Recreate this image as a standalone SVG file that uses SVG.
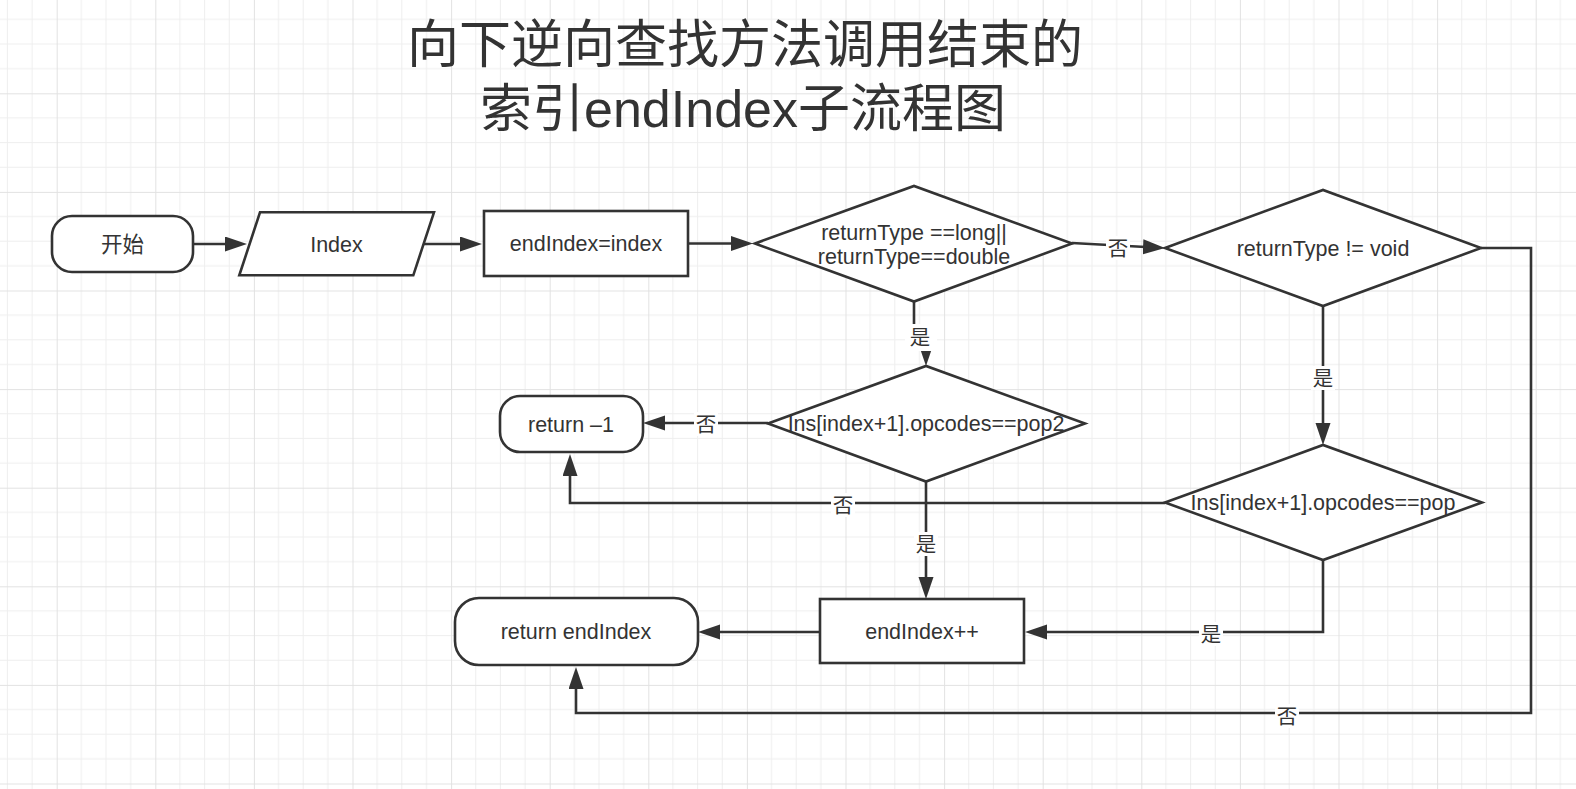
<svg xmlns="http://www.w3.org/2000/svg" width="1576" height="789" viewBox="0 0 1576 789">
<defs>
<pattern id="grid" patternUnits="userSpaceOnUse" x="56.7" y="93.3" width="98.6" height="98.6">
<path d="M24.65,0V98.6M49.3,0V98.6M73.95,0V98.6M0,24.65H98.6M0,49.3H98.6M0,73.95H98.6" stroke="#eeeeee" stroke-width="1" fill="none"/>
<path d="M0.5,0V98.6M0,0.5H98.6" stroke="#e2e2e2" stroke-width="1" fill="none"/>
</pattern>
<marker id="arr" markerUnits="userSpaceOnUse" markerWidth="24" markerHeight="16" refX="12" refY="7.5" orient="auto" viewBox="0 0 24 16">
<path d="M0,0 L22,7.5 L0,15 z" fill="#333333"/>
</marker>
<style>
.shape{fill:#ffffff;stroke:#333333;stroke-width:2.6}
.edge{fill:none;stroke:#333333;stroke-width:2.6}
.t{font-family:"Liberation Sans","Noto Sans CJK SC",sans-serif;font-size:21.5px;fill:#333333;text-anchor:middle}
.lbl{font-family:"Liberation Sans","Noto Sans CJK SC",sans-serif;font-size:20.5px;fill:#333333;text-anchor:middle}
.lbg{fill:#ffffff}
.title{font-family:"Liberation Sans","Noto Sans CJK SC",sans-serif;font-size:52px;fill:#333333;text-anchor:middle}
</style>
</defs>
<rect x="0" y="0" width="1576" height="789" fill="#ffffff"/>
<rect x="0" y="0" width="1576" height="789" fill="url(#grid)"/>

<g id="title">
<text class="title" x="745" y="63">向下逆向查找方法调用结束的</text>
<text class="title" x="743" y="127">索引endIndex子流程图</text>
</g>

<g id="connectors">
<path class="edge" d="M193,244 L237,244" marker-end="url(#arr)"/>
<path class="edge" d="M424,244 L472,244" marker-end="url(#arr)"/>
<path class="edge" d="M688,243.5 L743,243.5" marker-end="url(#arr)"/>
<path class="edge" d="M1072,243 L1155,247.5" marker-end="url(#arr)"/>
<path class="edge" d="M914,302 L914,328 L926,340 L926,356" marker-end="url(#arr)"/>
<path class="edge" d="M1323,306 L1323,435" marker-end="url(#arr)"/>
<path class="edge" d="M1481,248 L1531,248 L1531,713 L576,713 L576,677" marker-end="url(#arr)"/>
<path class="edge" d="M1165,503 L570,503 L570,464" marker-end="url(#arr)"/>
<path class="edge" d="M1323,560 L1323,632 L1035,632" marker-end="url(#arr)"/>
<path class="edge" d="M768,423 L653,423" marker-end="url(#arr)"/>
<path class="edge" d="M926,482 L926,589" marker-end="url(#arr)"/>
<path class="edge" d="M820,632 L708,632" marker-end="url(#arr)"/>
<g id="edge-labels">
<rect class="lbg" x="1106" y="236" width="24" height="24"/><text class="lbl" x="1118" y="255.5">否</text>
<rect class="lbg" x="905" y="324" width="32" height="27"/><text class="lbl" x="920" y="344.5">是</text>
<rect class="lbg" x="694" y="412" width="24" height="24"/><text class="lbl" x="706" y="431.5">否</text>
<rect class="lbg" x="831" y="493" width="24" height="24"/><text class="lbl" x="843" y="512.5">否</text>
<rect class="lbg" x="1311" y="366" width="24" height="24"/><text class="lbl" x="1323" y="385.5">是</text>
<rect class="lbg" x="914" y="532" width="24" height="24"/><text class="lbl" x="926" y="551.5">是</text>
<rect class="lbg" x="1199" y="622" width="24" height="24"/><text class="lbl" x="1211" y="641.5">是</text>
<rect class="lbg" x="1275" y="704" width="24" height="24"/><text class="lbl" x="1287" y="723.5">否</text>
</g>
</g>

<g id="start">
<rect class="shape" x="52" y="216" width="141" height="56" rx="20" ry="20"/>
<text class="t" x="122.5" y="251.5">开始</text>
</g>
<g id="index">
<polygon class="shape" points="260,212.3 434,212.3 413.3,275.3 239.3,275.3"/>
<text class="t" x="336.5" y="251.5">Index</text>
</g>
<g id="assign">
<rect class="shape" x="484" y="211" width="204" height="65"/>
<text class="t" x="586" y="251">endIndex=index</text>
</g>
<g id="decision-long-double">
<polygon class="shape" points="755,243.5 914,186 1072,243.5 914,301.5"/>
<text class="t" x="914" y="240">returnType ==long||</text>
<text class="t" x="914" y="264">returnType==double</text>
</g>
<g id="decision-void">
<polygon class="shape" points="1165,248 1323,190 1481,248 1323,306"/>
<text class="t" x="1323" y="256">returnType != void</text>
</g>
<g id="decision-pop2">
<polygon class="shape" points="768,423.5 926,366 1085,423.5 926,481.5"/>
<text class="t" x="926" y="431">Ins[index+1].opcodes==pop2</text>
</g>
<g id="decision-pop">
<polygon class="shape" points="1165,502.5 1323,445 1482,502.5 1323,560"/>
<text class="t" x="1323" y="510">Ins[index+1].opcodes==pop</text>
</g>
<g id="return-minus-one">
<rect class="shape" x="500" y="396" width="143" height="56" rx="20" ry="20"/>
<text class="t" x="571" y="431.5">return –1</text>
</g>
<g id="increment">
<rect class="shape" x="820" y="599" width="204" height="64"/>
<text class="t" x="922" y="638.5">endIndex++</text>
</g>
<g id="return-endindex">
<rect class="shape" x="455" y="598" width="243" height="67" rx="24" ry="24"/>
<text class="t" x="576" y="639">return endIndex</text>
</g>
</svg>
